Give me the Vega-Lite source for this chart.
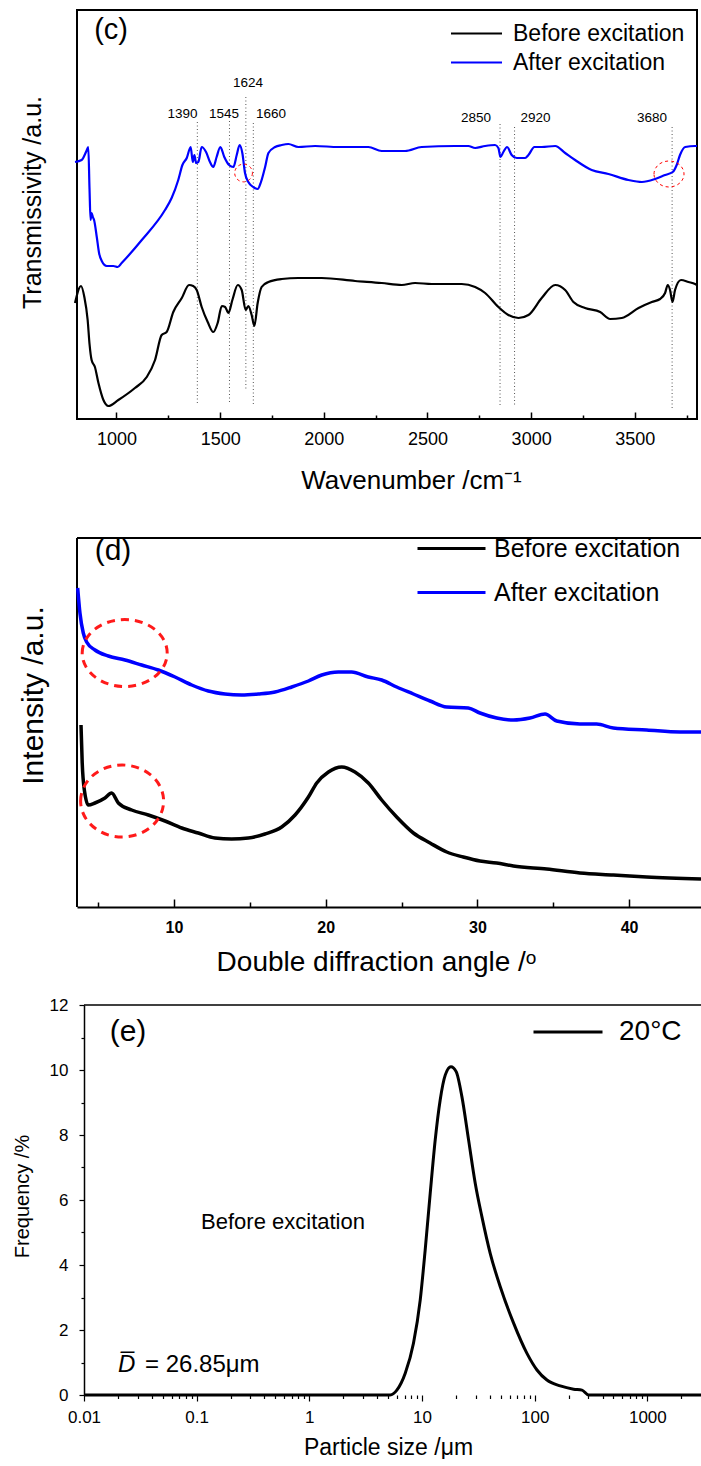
{
  "$schema": "https://vega.github.io/schema/vega-lite/v6.json",
  "padding": {"left": 12, "top": 9, "right": 0, "bottom": 0},
  "background": "white",
  "config": {
    "font": "Liberation Sans",
    "view": {"stroke": "black", "strokeWidth": 2},
    "axis": {"labelColor": "black", "titleColor": "black", "tickColor": "black", "domainColor": "black", "grid": false, "titleFontWeight": "normal", "labelFlush": false, "labelOverlap": false, "labelFont": "Liberation Sans", "titleFont": "Liberation Sans", "titleLimit": 600},
    "legend": {"labelFont": "Liberation Sans", "labelColor": "black", "labelLimit": 400},
    "text": {"font": "Liberation Sans", "color": "black"}
  },
  "resolve": {"scale": {"color": "independent"}, "legend": {"color": "independent"}},
  "bounds": "flush",
  "spacing": 98,
  "vconcat": [
    {
      "width": 620,
      "height": 409,
      "resolve": {"axis": {"x": "independent", "y": "independent"}},
      "layer": [
        {
          "data": {"values": [
            {"x": 1390, "y1": 297, "y2": 16},
            {"x": 1545, "y1": 298, "y2": 16},
            {"x": 1624, "y1": 322, "y2": 29},
            {"x": 1660, "y1": 296, "y2": 15},
            {"x": 2850, "y1": 295, "y2": 13},
            {"x": 2920, "y1": 292, "y2": 13},
            {"x": 3680, "y1": 292, "y2": 10}
          ]},
          "mark": {"type": "rule", "stroke": "#555555", "strokeWidth": 1, "strokeDash": [1, 2.5]},
          "encoding": {
            "x": {"field": "x", "type": "quantitative", "scale": {"domain": [809.6, 3800], "nice": false, "zero": false},
              "axis": {"orient": "bottom", "values": [1250, 1750, 2250, 2750, 3250, 3750], "labels": false, "title": null, "domain": false, "tickSize": -4, "tickWidth": 1.5}},
            "y": {"field": "y1", "type": "quantitative", "axis": null},
            "y2": {"field": "y2"}
          }
        },
        {
          "data": {"values": [
            {"s": "After excitation", "x": 800, "y": 257}, {"s": "After excitation", "x": 832, "y": 259}, {"s": "After excitation", "x": 855, "y": 268}, {"s": "After excitation", "x": 864, "y": 272}, {"s": "After excitation", "x": 870, "y": 230}, {"s": "After excitation", "x": 875, "y": 199}, {"s": "After excitation", "x": 880, "y": 206}, {"s": "After excitation", "x": 886, "y": 202}, {"s": "After excitation", "x": 892, "y": 199}, {"s": "After excitation", "x": 905, "y": 182}, {"s": "After excitation", "x": 916, "y": 166}, {"s": "After excitation", "x": 929, "y": 158}, {"s": "After excitation", "x": 953, "y": 153}, {"s": "After excitation", "x": 985, "y": 153}, {"s": "After excitation", "x": 1006, "y": 152}, {"s": "After excitation", "x": 1025, "y": 156}, {"s": "After excitation", "x": 1122, "y": 179}, {"s": "After excitation", "x": 1234, "y": 209}, {"s": "After excitation", "x": 1266, "y": 221}, {"s": "After excitation", "x": 1298, "y": 239}, {"s": "After excitation", "x": 1318, "y": 254}, {"s": "After excitation", "x": 1339, "y": 261}, {"s": "After excitation", "x": 1358, "y": 272}, {"s": "After excitation", "x": 1368, "y": 257}, {"s": "After excitation", "x": 1376, "y": 264}, {"s": "After excitation", "x": 1384, "y": 256}, {"s": "After excitation", "x": 1395, "y": 257}, {"s": "After excitation", "x": 1411, "y": 272}, {"s": "After excitation", "x": 1432, "y": 267}, {"s": "After excitation", "x": 1451, "y": 257}, {"s": "After excitation", "x": 1467, "y": 252}, {"s": "After excitation", "x": 1483, "y": 262}, {"s": "After excitation", "x": 1501, "y": 272}, {"s": "After excitation", "x": 1520, "y": 262}, {"s": "After excitation", "x": 1543, "y": 254}, {"s": "After excitation", "x": 1564, "y": 252}, {"s": "After excitation", "x": 1580, "y": 264}, {"s": "After excitation", "x": 1594, "y": 274}, {"s": "After excitation", "x": 1607, "y": 266}, {"s": "After excitation", "x": 1620, "y": 246}, {"s": "After excitation", "x": 1636, "y": 237}, {"s": "After excitation", "x": 1660, "y": 232}, {"s": "After excitation", "x": 1681, "y": 230}, {"s": "After excitation", "x": 1697, "y": 237}, {"s": "After excitation", "x": 1717, "y": 252}, {"s": "After excitation", "x": 1733, "y": 266}, {"s": "After excitation", "x": 1765, "y": 272}, {"s": "After excitation", "x": 1797, "y": 274}, {"s": "After excitation", "x": 1829, "y": 275}, {"s": "After excitation", "x": 1877, "y": 272}, {"s": "After excitation", "x": 1958, "y": 273}, {"s": "After excitation", "x": 2070, "y": 272}, {"s": "After excitation", "x": 2215, "y": 272}, {"s": "After excitation", "x": 2279, "y": 268}, {"s": "After excitation", "x": 2392, "y": 268}, {"s": "After excitation", "x": 2472, "y": 272}, {"s": "After excitation", "x": 2633, "y": 273}, {"s": "After excitation", "x": 2697, "y": 273}, {"s": "After excitation", "x": 2730, "y": 271}, {"s": "After excitation", "x": 2778, "y": 273}, {"s": "After excitation", "x": 2826, "y": 274}, {"s": "After excitation", "x": 2842, "y": 271}, {"s": "After excitation", "x": 2852, "y": 262}, {"s": "After excitation", "x": 2866, "y": 267}, {"s": "After excitation", "x": 2884, "y": 272}, {"s": "After excitation", "x": 2906, "y": 264}, {"s": "After excitation", "x": 2931, "y": 261}, {"s": "After excitation", "x": 2971, "y": 261}, {"s": "After excitation", "x": 2987, "y": 264}, {"s": "After excitation", "x": 3016, "y": 272}, {"s": "After excitation", "x": 3051, "y": 272}, {"s": "After excitation", "x": 3116, "y": 273}, {"s": "After excitation", "x": 3164, "y": 266}, {"s": "After excitation", "x": 3212, "y": 259}, {"s": "After excitation", "x": 3292, "y": 249}, {"s": "After excitation", "x": 3373, "y": 245}, {"s": "After excitation", "x": 3469, "y": 239}, {"s": "After excitation", "x": 3534, "y": 237}, {"s": "After excitation", "x": 3598, "y": 240}, {"s": "After excitation", "x": 3646, "y": 244}, {"s": "After excitation", "x": 3683, "y": 247}, {"s": "After excitation", "x": 3702, "y": 254}, {"s": "After excitation", "x": 3718, "y": 264}, {"s": "After excitation", "x": 3743, "y": 272}, {"s": "After excitation", "x": 3791, "y": 273}, {"s": "After excitation", "x": 3800, "y": 273},
            {"s": "Before excitation", "x": 800, "y": 116}, {"s": "Before excitation", "x": 829, "y": 133}, {"s": "Before excitation", "x": 845, "y": 122}, {"s": "Before excitation", "x": 861, "y": 99}, {"s": "Before excitation", "x": 870, "y": 75}, {"s": "Before excitation", "x": 880, "y": 59}, {"s": "Before excitation", "x": 896, "y": 52}, {"s": "Before excitation", "x": 913, "y": 36}, {"s": "Before excitation", "x": 937, "y": 19}, {"s": "Before excitation", "x": 961, "y": 13}, {"s": "Before excitation", "x": 1009, "y": 19}, {"s": "Before excitation", "x": 1089, "y": 31}, {"s": "Before excitation", "x": 1146, "y": 42}, {"s": "Before excitation", "x": 1186, "y": 59}, {"s": "Before excitation", "x": 1218, "y": 84}, {"s": "Before excitation", "x": 1242, "y": 87}, {"s": "Before excitation", "x": 1274, "y": 107}, {"s": "Before excitation", "x": 1315, "y": 121}, {"s": "Before excitation", "x": 1350, "y": 134}, {"s": "Before excitation", "x": 1370, "y": 133}, {"s": "Before excitation", "x": 1387, "y": 129}, {"s": "Before excitation", "x": 1411, "y": 112}, {"s": "Before excitation", "x": 1440, "y": 97}, {"s": "Before excitation", "x": 1467, "y": 87}, {"s": "Before excitation", "x": 1488, "y": 96}, {"s": "Before excitation", "x": 1508, "y": 113}, {"s": "Before excitation", "x": 1524, "y": 112}, {"s": "Before excitation", "x": 1540, "y": 106}, {"s": "Before excitation", "x": 1559, "y": 119}, {"s": "Before excitation", "x": 1585, "y": 134}, {"s": "Before excitation", "x": 1604, "y": 129}, {"s": "Before excitation", "x": 1623, "y": 109}, {"s": "Before excitation", "x": 1636, "y": 113}, {"s": "Before excitation", "x": 1652, "y": 104}, {"s": "Before excitation", "x": 1665, "y": 93}, {"s": "Before excitation", "x": 1681, "y": 116}, {"s": "Before excitation", "x": 1700, "y": 132}, {"s": "Before excitation", "x": 1733, "y": 137}, {"s": "Before excitation", "x": 1797, "y": 140}, {"s": "Before excitation", "x": 1877, "y": 141}, {"s": "Before excitation", "x": 1990, "y": 141}, {"s": "Before excitation", "x": 2151, "y": 138}, {"s": "Before excitation", "x": 2279, "y": 136}, {"s": "Before excitation", "x": 2376, "y": 134}, {"s": "Before excitation", "x": 2440, "y": 136}, {"s": "Before excitation", "x": 2521, "y": 135}, {"s": "Before excitation", "x": 2665, "y": 135}, {"s": "Before excitation", "x": 2730, "y": 132}, {"s": "Before excitation", "x": 2778, "y": 126}, {"s": "Before excitation", "x": 2842, "y": 112}, {"s": "Before excitation", "x": 2890, "y": 104}, {"s": "Before excitation", "x": 2939, "y": 101}, {"s": "Before excitation", "x": 2987, "y": 104}, {"s": "Before excitation", "x": 3051, "y": 121}, {"s": "Before excitation", "x": 3116, "y": 134}, {"s": "Before excitation", "x": 3164, "y": 129}, {"s": "Before excitation", "x": 3204, "y": 117}, {"s": "Before excitation", "x": 3260, "y": 111}, {"s": "Before excitation", "x": 3333, "y": 107}, {"s": "Before excitation", "x": 3381, "y": 100}, {"s": "Before excitation", "x": 3437, "y": 101}, {"s": "Before excitation", "x": 3518, "y": 111}, {"s": "Before excitation", "x": 3582, "y": 117}, {"s": "Before excitation", "x": 3622, "y": 120}, {"s": "Before excitation", "x": 3646, "y": 126}, {"s": "Before excitation", "x": 3659, "y": 134}, {"s": "Before excitation", "x": 3670, "y": 129}, {"s": "Before excitation", "x": 3682, "y": 117}, {"s": "Before excitation", "x": 3694, "y": 129}, {"s": "Before excitation", "x": 3723, "y": 139}, {"s": "Before excitation", "x": 3759, "y": 137}, {"s": "Before excitation", "x": 3791, "y": 135}, {"s": "Before excitation", "x": 3800, "y": 134}
          ]},
          "mark": {"type": "line", "strokeWidth": 2.2, "interpolate": "monotone"},
          "encoding": {
            "x": {"field": "x", "type": "quantitative", "scale": {"domain": [809.6, 3800], "nice": false, "zero": false},
              "axis": {"orient": "bottom", "title": "Wavenumber /cm⁻¹", "values": [1000, 1500, 2000, 2500, 3000, 3500], "format": "d", "tickSize": -7, "tickWidth": 1.5, "domain": false, "labelFontSize": 18, "labelPadding": 18, "titleFontSize": 26, "titleX": 334, "titleY": 61, "titleBaseline": "middle"}},
            "y": {"field": "y", "type": "quantitative", "scale": {"domain": [0, 409], "nice": false},
              "axis": {"orient": "left", "title": "Transmissivity /a.u.", "labels": false, "ticks": false, "domain": false, "titleFontSize": 25, "titleX": -45, "titleY": 192, "titleBaseline": "middle"}},
            "color": {"field": "s", "type": "nominal", "scale": {"domain": ["Before excitation", "After excitation"], "range": ["#000000", "#0000ff"]},
              "legend": {"title": null, "orient": "none", "legendX": 388, "legendY": 12, "symbolType": "M-3,0H3", "symbolSize": 289, "symbolStrokeWidth": 2, "labelFontSize": 23, "labelOffset": 25, "labelLimit": 400, "rowPadding": 5, "padding": 0}}
          }
        },
        {
          "data": {"values": [{"x": 1613, "y": 246}]},
          "mark": {"type": "point", "shape": "circle", "size": 314, "filled": false, "stroke": "#ff0000", "strokeWidth": 1, "strokeDash": [3, 3], "opacity": 1},
          "encoding": {"x": {"field": "x", "type": "quantitative", "axis": null}, "y": {"field": "y", "type": "quantitative", "axis": null}}
        },
        {
          "data": {"values": [{"x": 3665, "y": 245}]},
          "mark": {"type": "point", "shape": "M-1,0A1,0.867,0,1,1,1,0A1,0.867,0,1,1,-1,0Z", "size": 900, "filled": false, "stroke": "#ff0000", "strokeWidth": 1, "strokeDash": [3, 3], "opacity": 1},
          "encoding": {"x": {"field": "x", "type": "quantitative", "axis": null}, "y": {"field": "y", "type": "quantitative", "axis": null}}
        },
        {
          "data": {"values": [
            {"x": 1318, "y": 305, "t": "1390"},
            {"x": 1519, "y": 305, "t": "1545"},
            {"x": 1634, "y": 336, "t": "1624"},
            {"x": 1745, "y": 305, "t": "1660"},
            {"x": 2734, "y": 301, "t": "2850"},
            {"x": 3021, "y": 301, "t": "2920"},
            {"x": 3583, "y": 301, "t": "3680"}
          ]},
          "mark": {"type": "text", "fontSize": 13.5, "align": "center", "baseline": "middle"},
          "encoding": {"x": {"field": "x", "type": "quantitative", "axis": null}, "y": {"field": "y", "type": "quantitative", "axis": null}, "text": {"field": "t"}}
        },
        {
          "data": {"values": [{"x": 974, "y": 389, "t": "(c)"}]},
          "mark": {"type": "text", "fontSize": 29, "align": "center", "baseline": "middle"},
          "encoding": {"x": {"field": "x", "type": "quantitative", "axis": null}, "y": {"field": "y", "type": "quantitative", "axis": null}, "text": {"field": "t"}}
        }
      ]
    },
    {
      "width": 624,
      "height": 390,
      "view": {"stroke": null},
      "resolve": {"axis": {"x": "independent", "y": "independent"}},
      "layer": [
        {
          "data": {"values": [{"x": 3.606, "x2": 44.74, "y": 369}]},
          "mark": {"type": "rule", "stroke": "black", "strokeWidth": 2},
          "encoding": {
            "x": {"field": "x", "type": "quantitative", "scale": {"domain": [3.606, 44.74], "nice": false, "zero": false},
              "axis": {"orient": "bottom", "values": [5, 15, 25, 35], "labels": false, "title": null, "domain": false, "tickSize": -5, "tickWidth": 1.5}},
            "x2": {"field": "x2"},
            "y": {"field": "y", "type": "quantitative", "axis": null}
          }
        },
        {
          "data": {"values": [{"x": 3.606, "y": 0, "y2": 369}]},
          "mark": {"type": "rule", "stroke": "black", "strokeWidth": 2},
          "encoding": {
            "x": {"field": "x", "type": "quantitative", "axis": null},
            "y": {"field": "y", "type": "quantitative", "axis": null},
            "y2": {"field": "y2"}
          }
        },
        {
          "data": {"values": [
            {"s": "After excitation", "x": 3.65, "y": 319}, {"s": "After excitation", "x": 3.8, "y": 294}, {"s": "After excitation", "x": 4.02, "y": 274}, {"s": "After excitation", "x": 4.24, "y": 265}, {"s": "After excitation", "x": 4.79, "y": 257}, {"s": "After excitation", "x": 5.67, "y": 251}, {"s": "After excitation", "x": 6.77, "y": 247}, {"s": "After excitation", "x": 7.87, "y": 242}, {"s": "After excitation", "x": 8.97, "y": 237}, {"s": "After excitation", "x": 10.07, "y": 230}, {"s": "After excitation", "x": 11.17, "y": 222}, {"s": "After excitation", "x": 12.26, "y": 216}, {"s": "After excitation", "x": 13.36, "y": 213}, {"s": "After excitation", "x": 14.46, "y": 212}, {"s": "After excitation", "x": 15.56, "y": 213}, {"s": "After excitation", "x": 16.66, "y": 215}, {"s": "After excitation", "x": 17.76, "y": 220}, {"s": "After excitation", "x": 18.86, "y": 226}, {"s": "After excitation", "x": 19.74, "y": 232}, {"s": "After excitation", "x": 20.83, "y": 235}, {"s": "After excitation", "x": 21.71, "y": 235}, {"s": "After excitation", "x": 22.81, "y": 230}, {"s": "After excitation", "x": 23.69, "y": 227}, {"s": "After excitation", "x": 24.68, "y": 220}, {"s": "After excitation", "x": 25.78, "y": 213}, {"s": "After excitation", "x": 26.88, "y": 206}, {"s": "After excitation", "x": 27.98, "y": 200}, {"s": "After excitation", "x": 29.4, "y": 199}, {"s": "After excitation", "x": 30.17, "y": 194}, {"s": "After excitation", "x": 31.27, "y": 189}, {"s": "After excitation", "x": 32.37, "y": 187}, {"s": "After excitation", "x": 33.47, "y": 189}, {"s": "After excitation", "x": 34.46, "y": 193}, {"s": "After excitation", "x": 35.23, "y": 186}, {"s": "After excitation", "x": 36.76, "y": 183}, {"s": "After excitation", "x": 37.86, "y": 183}, {"s": "After excitation", "x": 38.96, "y": 179}, {"s": "After excitation", "x": 41.16, "y": 177}, {"s": "After excitation", "x": 43.36, "y": 175}, {"s": "After excitation", "x": 44.74, "y": 175},
            {"s": "Before excitation", "x": 3.87, "y": 182}, {"s": "Before excitation", "x": 3.95, "y": 144}, {"s": "Before excitation", "x": 4.09, "y": 117}, {"s": "Before excitation", "x": 4.35, "y": 102}, {"s": "Before excitation", "x": 4.79, "y": 104}, {"s": "Before excitation", "x": 5.45, "y": 109}, {"s": "Before excitation", "x": 5.89, "y": 114}, {"s": "Before excitation", "x": 6.33, "y": 104}, {"s": "Before excitation", "x": 7.21, "y": 97}, {"s": "Before excitation", "x": 8.31, "y": 92}, {"s": "Before excitation", "x": 9.41, "y": 86}, {"s": "Before excitation", "x": 10.51, "y": 79}, {"s": "Before excitation", "x": 11.6, "y": 74}, {"s": "Before excitation", "x": 12.7, "y": 69}, {"s": "Before excitation", "x": 13.8, "y": 68}, {"s": "Before excitation", "x": 14.9, "y": 69}, {"s": "Before excitation", "x": 16.0, "y": 73}, {"s": "Before excitation", "x": 17.1, "y": 80}, {"s": "Before excitation", "x": 17.98, "y": 92}, {"s": "Before excitation", "x": 18.86, "y": 110}, {"s": "Before excitation", "x": 19.41, "y": 124}, {"s": "Before excitation", "x": 20.18, "y": 135}, {"s": "Before excitation", "x": 21.06, "y": 140}, {"s": "Before excitation", "x": 21.93, "y": 135}, {"s": "Before excitation", "x": 22.81, "y": 124}, {"s": "Before excitation", "x": 23.69, "y": 107}, {"s": "Before excitation", "x": 24.68, "y": 90}, {"s": "Before excitation", "x": 25.78, "y": 74}, {"s": "Before excitation", "x": 26.88, "y": 64}, {"s": "Before excitation", "x": 27.98, "y": 55}, {"s": "Before excitation", "x": 29.07, "y": 50}, {"s": "Before excitation", "x": 30.17, "y": 46}, {"s": "Before excitation", "x": 31.27, "y": 44}, {"s": "Before excitation", "x": 32.37, "y": 41}, {"s": "Before excitation", "x": 34.57, "y": 38}, {"s": "Before excitation", "x": 36.76, "y": 34}, {"s": "Before excitation", "x": 38.96, "y": 32}, {"s": "Before excitation", "x": 41.16, "y": 30}, {"s": "Before excitation", "x": 44.74, "y": 28}
          ]},
          "mark": {"type": "line", "strokeWidth": 3.5, "interpolate": "monotone"},
          "encoding": {
            "x": {"field": "x", "type": "quantitative", "scale": {"domain": [3.606, 44.74], "nice": false, "zero": false},
              "axis": {"orient": "bottom", "title": "Double diffraction angle /ᵒ", "values": [10, 20, 30, 40], "tickSize": -8, "tickWidth": 1.5, "domain": true, "domainWidth": 2, "labelFontSize": 16, "labelFontWeight": "bold", "labelPadding": 20, "titleFontSize": 28, "titleX": 299, "titleY": 55, "titleBaseline": "middle"}},
            "y": {"field": "y", "type": "quantitative", "scale": {"domain": [0, 390], "nice": false},
              "axis": {"orient": "left", "title": "Intensity /a.u.", "labels": false, "ticks": false, "domain": false, "titleFontSize": 30, "titleX": -44, "titleY": 178, "titleBaseline": "middle"}},
            "color": {"field": "s", "type": "nominal", "scale": {"domain": ["Before excitation", "After excitation"], "range": ["#000000", "#0000ff"]},
              "legend": {"title": null, "orient": "none", "legendX": 362, "legendY": 19, "symbolType": "M-4,0H4", "symbolSize": 289, "symbolStrokeWidth": 3, "labelFontSize": 25, "labelOffset": 30, "labelLimit": 400, "rowPadding": 18, "padding": 0}}
          }
        },
        {
          "data": {"values": [{"x": 6.75, "y": 254}]},
          "mark": {"type": "point", "shape": "M-1,0A1,0.788,0,1,1,1,0A1,0.788,0,1,1,-1,0Z", "size": 7225, "filled": false, "stroke": "#ff1a1a", "strokeWidth": 3, "strokeDash": [8, 6], "opacity": 1},
          "encoding": {"x": {"field": "x", "type": "quantitative", "axis": null}, "y": {"field": "y", "type": "quantitative", "axis": null}}
        },
        {
          "data": {"values": [{"x": 6.58, "y": 106}]},
          "mark": {"type": "point", "shape": "M-1,0A1,0.867,0,1,1,1,0A1,0.867,0,1,1,-1,0Z", "size": 6889, "filled": false, "stroke": "#ff1a1a", "strokeWidth": 3, "strokeDash": [8, 6], "opacity": 1},
          "encoding": {"x": {"field": "x", "type": "quantitative", "axis": null}, "y": {"field": "y", "type": "quantitative", "axis": null}}
        },
        {
          "data": {"values": [{"x": 5.98, "y": 356, "t": "(d)"}]},
          "mark": {"type": "text", "fontSize": 30, "align": "center", "baseline": "middle"},
          "encoding": {"x": {"field": "x", "type": "quantitative", "axis": null}, "y": {"field": "y", "type": "quantitative", "axis": null}, "text": {"field": "t"}}
        }
      ]
    },
    {
      "width": 624,
      "height": 390,
      "view": {"stroke": null},
      "resolve": {"axis": {"x": "independent", "y": "independent"}},
      "layer": [
        {
          "data": {"values": [{"x": 0.01, "x2": 2994, "y": 12}]},
          "mark": {"type": "rule", "stroke": "black", "strokeWidth": 1.5},
          "encoding": {
            "x": {"field": "x", "type": "quantitative", "scale": {"type": "log", "domain": [0.008668, 2994], "nice": false},
              "axis": {"orient": "bottom", "values": [0.02, 0.03, 0.04, 0.05, 0.06, 0.07, 0.08, 0.09, 0.2, 0.3, 0.4, 0.5, 0.6, 0.7, 0.8, 0.9, 2, 3, 4, 5, 6, 7, 8, 9, 20, 30, 40, 50, 60, 70, 80, 90, 200, 300, 400, 500, 600, 700, 800, 900, 2000], "labels": false, "title": null, "domain": false, "tickSize": 3.5, "tickWidth": 1.2}},
            "x2": {"field": "x2"},
            "y": {"field": "y", "type": "quantitative", "scale": {"domain": [0, 12], "nice": false},
              "axis": {"orient": "left", "offset": -7, "values": [1, 3, 5, 7, 9, 11], "labels": false, "title": null, "domain": false, "tickSize": 3, "tickWidth": 1.2}}
          }
        },
        {
          "data": {"values": [
            {"s": "20°C", "x": 0.01, "y": 0}, {"s": "20°C", "x": 5.22, "y": 0}, {"s": "20°C", "x": 5.98, "y": 0.15}, {"s": "20°C", "x": 7.1, "y": 0.67}, {"s": "20°C", "x": 8.4, "y": 1.59}, {"s": "20°C", "x": 9.64, "y": 2.92}, {"s": "20°C", "x": 10.67, "y": 4.46}, {"s": "20°C", "x": 11.83, "y": 6.21}, {"s": "20°C", "x": 13.1, "y": 7.85}, {"s": "20°C", "x": 14.5, "y": 9.08}, {"s": "20°C", "x": 16.1, "y": 9.85}, {"s": "20°C", "x": 18.06, "y": 10.1}, {"s": "20°C", "x": 20.1, "y": 9.95}, {"s": "20°C", "x": 22.6, "y": 9.18}, {"s": "20°C", "x": 25.9, "y": 7.85}, {"s": "20°C", "x": 29.7, "y": 6.51}, {"s": "20°C", "x": 34.0, "y": 5.49}, {"s": "20°C", "x": 40.3, "y": 4.36}, {"s": "20°C", "x": 49.5, "y": 3.33}, {"s": "20°C", "x": 65.0, "y": 2.21}, {"s": "20°C", "x": 85.4, "y": 1.28}, {"s": "20°C", "x": 104.8, "y": 0.77}, {"s": "20°C", "x": 128.5, "y": 0.46}, {"s": "20°C", "x": 168.8, "y": 0.28}, {"s": "20°C", "x": 221.6, "y": 0.18}, {"s": "20°C", "x": 263, "y": 0.15}, {"s": "20°C", "x": 301, "y": 0}, {"s": "20°C", "x": 2994, "y": 0}
          ]},
          "mark": {"type": "line", "strokeWidth": 3, "interpolate": "monotone"},
          "encoding": {
            "x": {"field": "x", "type": "quantitative", "scale": {"type": "log", "domain": [0.008668, 2994], "nice": false},
              "axis": {"orient": "bottom", "title": "Particle size /μm", "values": [0.01, 0.1, 1, 10, 100, 1000], "labelExpr": "toString(datum.value)", "tickSize": 6, "tickWidth": 1.2, "domain": false, "labelFontSize": 17, "labelPadding": 8, "titleFontSize": 23, "titleX": 311, "titleY": 52, "titleBaseline": "middle"}},
            "y": {"field": "y", "type": "quantitative", "scale": {"domain": [0, 12], "nice": false},
              "axis": {"orient": "left", "title": "Frequency /%", "offset": -7, "values": [0, 2, 4, 6, 8, 10, 12], "tickSize": 5, "tickWidth": 1.2, "domain": true, "domainWidth": 1.5, "labelFontSize": 17, "labelPadding": 11, "titleFontSize": 20, "titleX": -62, "titleY": 191, "titleBaseline": "middle"}},
            "color": {"field": "s", "type": "nominal", "scale": {"domain": ["20°C"], "range": ["#000000"]},
              "legend": {"title": null, "orient": "none", "legendX": 477, "legendY": 13, "symbolType": "M-4.06,0H4.06", "symbolSize": 289, "symbolStrokeWidth": 3, "labelFontSize": 28, "labelOffset": 37, "labelLimit": 400, "padding": 0}}
          }
        },
        {
          "data": {"values": [{"x": 0.02457, "y": 11.17, "t": "(e)"}]},
          "mark": {"type": "text", "fontSize": 30, "align": "center", "baseline": "middle"},
          "encoding": {"x": {"field": "x", "type": "quantitative", "axis": null}, "y": {"field": "y", "type": "quantitative", "axis": null}, "text": {"field": "t"}}
        },
        {
          "data": {"values": [{"x": 0.584, "y": 5.32, "t": "Before excitation"}]},
          "mark": {"type": "text", "fontSize": 22, "align": "center", "baseline": "middle"},
          "encoding": {"x": {"field": "x", "type": "quantitative", "axis": null}, "y": {"field": "y", "type": "quantitative", "axis": null}, "text": {"field": "t"}}
        },
        {
          "data": {"values": [{"x": 0.02004, "y": 0.92, "t": "D̅"}]},
          "mark": {"type": "text", "fontSize": 24, "fontStyle": "italic", "align": "left", "baseline": "middle"},
          "encoding": {"x": {"field": "x", "type": "quantitative", "axis": null}, "y": {"field": "y", "type": "quantitative", "axis": null}, "text": {"field": "t"}}
        },
        {
          "data": {"values": [{"x": 0.0348, "y": 0.92, "t": "= 26.85μm"}]},
          "mark": {"type": "text", "fontSize": 24, "align": "left", "baseline": "middle"},
          "encoding": {"x": {"field": "x", "type": "quantitative", "axis": null}, "y": {"field": "y", "type": "quantitative", "axis": null}, "text": {"field": "t"}}
        }
      ]
    }
  ]
}
